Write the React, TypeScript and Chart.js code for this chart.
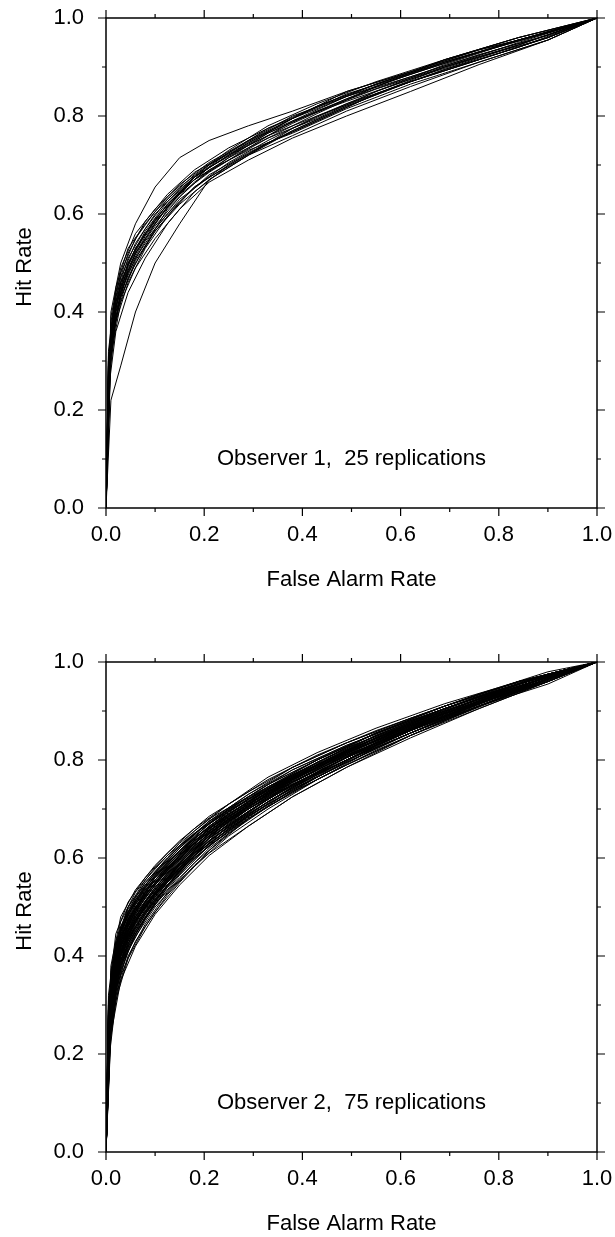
import React, { useEffect, useRef } from "react";
import { Chart, registerables } from "chart.js";

Chart.register(...registerables);

// False-alarm-rate sampling points (two interleaved criterion sets)
const farGridA = [0, 0.01, 0.03, 0.06, 0.1, 0.15, 0.21, 0.29, 0.38, 0.49, 0.62, 0.76, 0.9, 1];
const farGridB = [0, 0.005, 0.02, 0.045, 0.08, 0.125, 0.18, 0.25, 0.33, 0.43, 0.55, 0.69, 0.84, 1];

const tickValues = [0, 0.2, 0.4, 0.6, 0.8, 1.0];
const tickLabels = ["0.0", "0.2", "0.4", "0.6", "0.8", "1.0"];
const minorTickValues = [0.1, 0.3, 0.5, 0.7, 0.9];

const xTitle = "False Alarm Rate";
const yTitle = "Hit Rate";
const obs1Label = "Observer 1,  25 replications";
const obs2Label = "Observer 2,  75 replications";

// Observer 1 hit rates (grid A curves)
const obs1HitsA = [
  [0, .36, .46, .53, .59, .645, .695, .74, .785, .835, .88, .925, .965, 1],
  [0, .40, .50, .58, .655, .715, .75, .78, .81, .85, .89, .935, .97, 1],
  [0, .22, .29, .40, .50, .58, .67, .72, .77, .82, .87, .915, .96, 1],
  [0, .33, .43, .50, .565, .625, .68, .725, .77, .82, .87, .915, .96, 1],
  [0, .38, .48, .55, .605, .655, .70, .745, .795, .845, .885, .93, .97, 1],
  [0, .34, .44, .51, .57, .63, .675, .72, .76, .81, .86, .91, .955, 1],
  [0, .37, .47, .54, .60, .65, .70, .75, .80, .84, .885, .93, .97, 1],
  [0, .31, .42, .49, .55, .61, .665, .71, .755, .80, .85, .905, .955, 1],
  [0, .35, .46, .53, .585, .64, .685, .735, .79, .84, .88, .925, .965, 1],
  [0, .39, .49, .56, .61, .66, .705, .75, .79, .83, .875, .92, .96, 1],
  [0, .32, .44, .52, .575, .635, .69, .73, .765, .815, .865, .91, .955, 1],
  [0, .36, .45, .52, .58, .645, .695, .745, .795, .85, .89, .935, .97, 1],
  [0, .34, .43, .505, .565, .62, .67, .72, .775, .825, .87, .915, .96, 1],
];
// Observer 1 hit rates (grid B curves)
const obs1HitsB = [
  [0, .29, .42, .50, .56, .62, .675, .72, .765, .81, .86, .91, .955, 1],
  [0, .25, .38, .46, .53, .595, .655, .705, .75, .80, .85, .90, .945, 1],
  [0, .31, .44, .52, .585, .64, .69, .735, .775, .815, .865, .91, .955, 1],
  [0, .27, .40, .48, .545, .60, .655, .70, .745, .79, .845, .895, .945, 1],
  [0, .30, .43, .51, .57, .63, .68, .73, .78, .825, .87, .915, .96, 1],
  [0, .26, .39, .47, .535, .61, .665, .715, .765, .81, .855, .90, .95, 1],
  [0, .24, .36, .44, .51, .58, .645, .70, .745, .79, .845, .895, .94, 1],
  [0, .32, .45, .53, .58, .635, .685, .725, .77, .82, .865, .915, .96, 1],
  [0, .28, .41, .49, .555, .615, .67, .715, .755, .795, .85, .905, .955, 1],
  [0, .30, .42, .50, .565, .625, .675, .72, .76, .80, .845, .90, .945, 1],
  [0, .27, .40, .485, .55, .615, .675, .725, .775, .82, .865, .91, .955, 1],
  [0, .29, .41, .495, .56, .62, .67, .71, .755, .805, .86, .915, .96, 1],
];

// Observer 2 hit rates (grid A curves)
const obs2HitsA = [
  [0, .31, .42, .48, .535, .59, .645, .70, .755, .81, .865, .92, .97, 1],
  [0, .35, .46, .52, .57, .62, .675, .73, .78, .83, .88, .93, .975, 1],
  [0, .27, .38, .44, .50, .555, .61, .665, .725, .785, .85, .91, .965, 1],
  [0, .33, .44, .50, .555, .61, .665, .72, .77, .825, .875, .925, .97, 1],
  [0, .29, .40, .46, .515, .57, .625, .68, .735, .79, .85, .91, .965, 1],
  [0, .37, .47, .53, .58, .63, .68, .725, .77, .815, .865, .915, .965, 1],
  [0, .25, .36, .43, .49, .55, .615, .68, .74, .80, .86, .915, .97, 1],
  [0, .32, .43, .49, .545, .60, .66, .715, .77, .825, .875, .93, .975, 1],
  [0, .30, .41, .47, .525, .58, .635, .69, .745, .80, .855, .915, .965, 1],
  [0, .34, .45, .51, .565, .615, .665, .715, .765, .815, .87, .92, .97, 1],
  [0, .28, .39, .455, .515, .575, .635, .695, .75, .805, .86, .915, .965, 1],
  [0, .36, .455, .51, .56, .615, .67, .725, .78, .83, .88, .93, .975, 1],
  [0, .31, .42, .475, .525, .575, .63, .685, .74, .795, .855, .91, .96, 1],
  [0, .26, .37, .445, .51, .575, .635, .69, .745, .80, .86, .92, .97, 1],
  [0, .33, .43, .49, .545, .605, .66, .71, .76, .815, .87, .925, .97, 1],
  [0, .29, .41, .475, .53, .585, .64, .695, .755, .815, .87, .925, .975, 1],
  [0, .35, .45, .505, .555, .60, .65, .70, .75, .80, .855, .91, .96, 1],
  [0, .30, .40, .465, .52, .58, .64, .70, .76, .815, .87, .92, .97, 1],
  [0, .32, .435, .50, .56, .615, .67, .72, .77, .82, .87, .92, .965, 1],
  [0, .27, .385, .45, .505, .56, .62, .68, .735, .79, .85, .905, .96, 1],
  [0, .34, .44, .495, .55, .605, .655, .705, .755, .81, .865, .92, .97, 1],
  [0, .38, .48, .535, .585, .635, .685, .735, .785, .835, .885, .935, .975, 1],
  [0, .30, .42, .485, .54, .595, .65, .705, .76, .815, .865, .915, .96, 1],
  [0, .28, .40, .47, .53, .59, .645, .70, .75, .80, .855, .91, .965, 1],
  [0, .33, .425, .48, .53, .585, .64, .695, .75, .805, .86, .92, .97, 1],
  [0, .31, .43, .495, .55, .605, .655, .71, .765, .82, .875, .925, .975, 1],
  [0, .24, .35, .42, .485, .545, .605, .665, .725, .785, .845, .905, .96, 1],
  [0, .36, .46, .515, .565, .62, .675, .73, .785, .835, .885, .935, .98, 1],
  [0, .29, .405, .47, .525, .58, .63, .685, .74, .795, .855, .91, .965, 1],
  [0, .32, .42, .48, .54, .60, .66, .715, .765, .815, .865, .915, .965, 1],
  [0, .35, .445, .50, .55, .60, .655, .71, .765, .82, .875, .93, .975, 1],
  [0, .27, .39, .46, .52, .58, .64, .695, .75, .805, .86, .915, .965, 1],
  [0, .31, .415, .47, .525, .585, .645, .705, .765, .82, .87, .92, .965, 1],
  [0, .34, .45, .515, .57, .625, .675, .72, .765, .81, .86, .915, .965, 1],
  [0, .30, .41, .47, .53, .59, .65, .705, .755, .805, .86, .915, .97, 1],
  [0, .28, .38, .445, .505, .565, .625, .685, .745, .805, .865, .925, .975, 1],
  [0, .33, .44, .505, .56, .61, .66, .71, .76, .81, .86, .91, .955, 1],
  [0, .32, .425, .485, .54, .595, .65, .705, .76, .815, .87, .925, .97, 1],
];
// Observer 2 hit rates (grid B curves)
const obs2HitsB = [
  [0, .25, .38, .455, .51, .565, .62, .675, .725, .78, .84, .895, .95, 1],
  [0, .29, .42, .49, .545, .595, .65, .70, .75, .80, .855, .905, .955, 1],
  [0, .21, .34, .42, .48, .54, .60, .655, .71, .765, .83, .89, .945, 1],
  [0, .27, .40, .475, .53, .585, .64, .695, .745, .80, .855, .91, .955, 1],
  [0, .23, .36, .435, .49, .545, .60, .655, .705, .76, .825, .885, .945, 1],
  [0, .31, .43, .50, .55, .60, .65, .70, .745, .79, .845, .90, .95, 1],
  [0, .19, .32, .40, .465, .53, .59, .65, .705, .765, .83, .89, .95, 1],
  [0, .26, .39, .465, .525, .58, .64, .695, .745, .80, .855, .91, .96, 1],
  [0, .24, .37, .445, .50, .555, .61, .665, .715, .77, .83, .89, .945, 1],
  [0, .28, .41, .485, .54, .59, .64, .69, .735, .785, .84, .895, .95, 1],
  [0, .22, .35, .43, .49, .55, .61, .67, .72, .775, .835, .89, .945, 1],
  [0, .30, .42, .49, .54, .59, .645, .70, .75, .80, .855, .905, .955, 1],
  [0, .25, .38, .45, .505, .555, .61, .665, .72, .775, .835, .89, .945, 1],
  [0, .20, .33, .415, .48, .545, .605, .66, .715, .775, .835, .895, .95, 1],
  [0, .27, .395, .47, .525, .58, .635, .685, .735, .79, .85, .905, .955, 1],
  [0, .24, .375, .45, .505, .56, .615, .675, .73, .79, .845, .90, .955, 1],
  [0, .29, .415, .485, .535, .58, .63, .68, .73, .78, .835, .89, .945, 1],
  [0, .23, .36, .44, .50, .56, .62, .68, .735, .79, .845, .90, .95, 1],
  [0, .26, .385, .46, .52, .575, .63, .68, .73, .785, .845, .90, .95, 1],
  [0, .21, .34, .425, .485, .545, .605, .66, .71, .765, .825, .885, .94, 1],
  [0, .28, .405, .475, .525, .58, .635, .69, .74, .795, .85, .905, .955, 1],
  [0, .32, .445, .51, .56, .61, .66, .71, .76, .81, .86, .91, .96, 1],
  [0, .25, .39, .465, .52, .575, .625, .68, .735, .79, .845, .895, .945, 1],
  [0, .22, .355, .435, .495, .555, .615, .675, .725, .775, .835, .89, .95, 1],
  [0, .27, .39, .46, .51, .565, .62, .675, .73, .785, .845, .905, .955, 1],
  [0, .25, .385, .465, .525, .58, .635, .69, .74, .795, .85, .905, .96, 1],
  [0, .18, .31, .395, .46, .525, .585, .645, .70, .76, .82, .88, .94, 1],
  [0, .30, .425, .495, .55, .60, .655, .71, .765, .815, .865, .915, .96, 1],
  [0, .24, .37, .445, .50, .555, .605, .66, .715, .77, .83, .89, .945, 1],
  [0, .26, .38, .45, .51, .57, .63, .685, .735, .785, .84, .895, .95, 1],
  [0, .29, .41, .475, .525, .575, .63, .685, .74, .795, .855, .91, .96, 1],
  [0, .22, .35, .425, .485, .545, .605, .665, .72, .775, .835, .895, .95, 1],
  [0, .25, .375, .445, .50, .56, .62, .68, .735, .79, .85, .905, .955, 1],
  [0, .28, .42, .50, .555, .605, .65, .695, .74, .785, .84, .895, .95, 1],
  [0, .24, .37, .445, .505, .565, .625, .68, .73, .78, .835, .89, .945, 1],
  [0, .21, .33, .41, .475, .54, .60, .66, .715, .77, .83, .89, .945, 1],
  [0, .27, .40, .475, .53, .585, .64, .69, .74, .79, .845, .90, .955, 1],
];

const FONT = '"Liberation Sans", Arial, Helvetica, sans-serif';

function buildDatasets(grids: { grid: number[]; curves: number[][] }[]) {
  const ds: any[] = [];
  grids.forEach(({ grid, curves }) => {
    curves.forEach((hits) => {
      ds.push({
        data: hits.map((h, i) => ({ x: grid[i], y: h })),
        showLine: true,
        borderColor: "#000",
        borderWidth: 1,
        pointRadius: 0,
        pointHoverRadius: 0,
        tension: 0,
        fill: false,
      });
    });
  });
  return ds;
}

function makeFramePlugin(annotation: string) {
  return {
    id: "frameAndText",
    afterDraw(chart: any) {
      const { ctx, chartArea } = chart;
      const { left, right, top, bottom } = chartArea;
      const xs = chart.scales.x;
      const ys = chart.scales.y;
      ctx.save();
      ctx.strokeStyle = "#000";
      ctx.lineWidth = 1.5;
      ctx.strokeRect(left, top, right - left, bottom - top);
      ctx.lineWidth = 1.2;
      const drawTicks = (vals: number[], len: number) => {
        ctx.beginPath();
        vals.forEach((v) => {
          const px = xs.getPixelForValue(v);
          ctx.moveTo(px, bottom);
          ctx.lineTo(px, bottom + len);
          ctx.moveTo(px, top);
          ctx.lineTo(px, top - len);
          const py = ys.getPixelForValue(v);
          ctx.moveTo(left, py);
          ctx.lineTo(left - len, py);
          ctx.moveTo(right, py);
          ctx.lineTo(right + len, py);
        });
        ctx.stroke();
      };
      drawTicks(tickValues, 8);
      drawTicks(minorTickValues, 4);

      ctx.fillStyle = "#000";
      ctx.font = `22px ${FONT}`;
      ctx.textAlign = "center";
      ctx.textBaseline = "middle";
      ctx.fillText(xTitle, (left + right) / 2, bottom + 72);
      ctx.save();
      ctx.translate(25, (top + bottom) / 2 + 4);
      ctx.rotate(-Math.PI / 2);
      ctx.fillText(yTitle, 0, 0);
      ctx.restore();
      ctx.fillText(annotation, xs.getPixelForValue(0.5), ys.getPixelForValue(0.1));
      ctx.restore();
    },
  };
}

function RocChart({ height, datasets, annotation }: { height: number; datasets: any[]; annotation: string }) {
  const ref = useRef<HTMLCanvasElement | null>(null);
  useEffect(() => {
    if (!ref.current) return;
    const setTicks = (scale: any) => {
      scale.ticks = tickValues.map((v) => ({ value: v }));
    };
    const zeroPad = (s: any) => {
      s.paddingTop = 0;
      s.paddingBottom = 0;
      s.paddingLeft = 0;
      s.paddingRight = 0;
    };
    const chart = new Chart(ref.current, {
      type: "scatter",
      data: { datasets },
      options: {
        animation: false,
        responsive: false,
        events: [],
        layout: { padding: { top: 18, right: 18, left: 0, bottom: 0 } },
        plugins: { legend: { display: false }, tooltip: { enabled: false } },
        scales: {
          x: {
            type: "linear",
            min: 0,
            max: 1,
            afterBuildTicks: setTicks,
            afterFit: (s: any) => {
              s.height = height - 508;
              zeroPad(s);
            },
            grid: { display: false, drawTicks: false },
            border: { display: false },
            ticks: {
              autoSkip: false,
              maxRotation: 0,
              padding: 14,
              color: "#000",
              font: { family: FONT, size: 22 },
              callback: (_v: any, i: number) => tickLabels[i],
            },
          },
          y: {
            type: "linear",
            min: 0,
            max: 1,
            afterBuildTicks: setTicks,
            afterFit: (s: any) => {
              s.width = 106;
              zeroPad(s);
            },
            grid: { display: false, drawTicks: false },
            border: { display: false },
            ticks: {
              autoSkip: false,
              padding: 22,
              color: "#000",
              font: { family: FONT, size: 22 },
              callback: (_v: any, i: number) => tickLabels[i],
            },
          },
        },
      },
      plugins: [makeFramePlugin(annotation)],
    });
    return () => chart.destroy();
  }, [height, datasets, annotation]);
  return <canvas ref={ref} width={615} height={height} style={{ display: "block", width: 615, height }} />;
}

const ds1 = buildDatasets([
  { grid: farGridA, curves: obs1HitsA },
  { grid: farGridB, curves: obs1HitsB },
]);
const ds2 = buildDatasets([
  { grid: farGridA, curves: obs2HitsA },
  { grid: farGridB, curves: obs2HitsB },
]);

export default function App() {
  return (
    <div style={{ position: "absolute", left: 0, top: 0, width: 615, height: 1237, background: "#fff" }}>
      <RocChart height={644} datasets={ds1} annotation={obs1Label} />
      <RocChart height={593} datasets={ds2} annotation={obs2Label} />
    </div>
  );
}
